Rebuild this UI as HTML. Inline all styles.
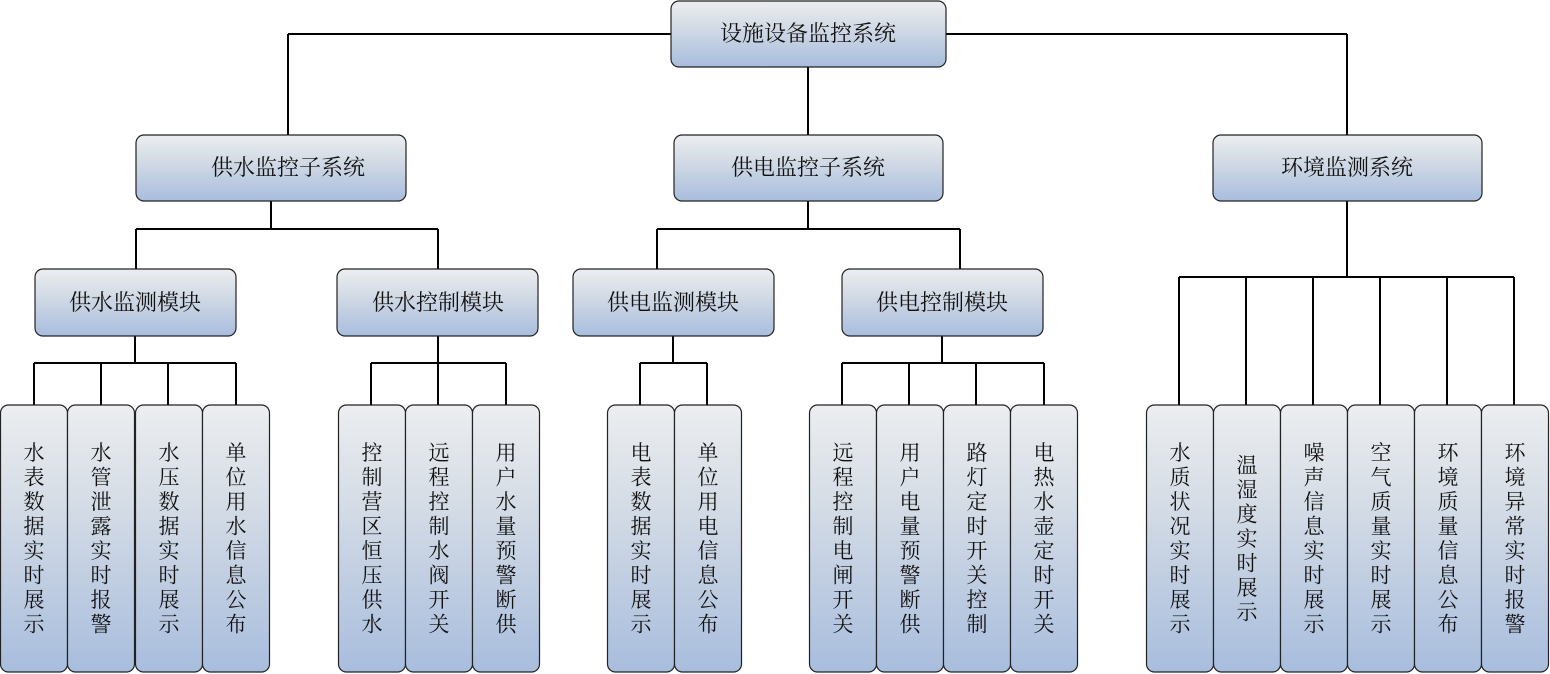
<!DOCTYPE html>
<html><head><meta charset="utf-8"><style>
html,body{margin:0;padding:0;background:#fff;}
svg{display:block;}
text{font-family:"Noto Serif CJK SC","Liberation Serif",serif;font-size:21px;fill:#111;}
.h{font-size:22px;}
</style></head><body>
<svg width="1550" height="674" viewBox="0 0 1550 674" xmlns="http://www.w3.org/2000/svg">
<defs>
<linearGradient id="g" x1="0" y1="0" x2="0" y2="1">
<stop offset="0" stop-color="#eceef0"/><stop offset="0.35" stop-color="#d6dde6"/><stop offset="1" stop-color="#a8bddd"/>
</linearGradient>
</defs>
<g stroke="#000" stroke-width="2" fill="none">
<path d="M288 34H1347M808 34V135M288 34V135M1347 34V135"/>
<path d="M271 201V229M136 229H438M136 229V269M438 229V269"/>
<path d="M808 201V229M657 229H960M657 229V269M960 229V269"/>
<path d="M1347 201V277M1179 277H1514M1179 277V405M1246 277V405M1313 277V405M1380 277V405M1447 277V405M1514 277V405"/>
<path d="M135 336V363M34 363H236M34 363V405M101 363V405M168 363V405M236 363V405"/>
<path d="M438 336V363M371 363H506M371 363V405M438 363V405M506 363V405"/>
<path d="M673 336V363M640 363H707M640 363V405M707 363V405"/>
<path d="M942 336V363M842 363H1044M842 363V405M909 363V405M976 363V405M1044 363V405"/>
</g>
<g stroke="#222" stroke-width="1.2" fill="url(#g)">
<rect x="671" y="1" width="275" height="66" rx="8"/>
<rect x="136" y="135" width="270" height="66" rx="8"/>
<rect x="674" y="135" width="269" height="66" rx="8"/>
<rect x="1213" y="135" width="269" height="66" rx="8"/>
<rect x="35" y="269" width="201" height="67" rx="8"/>
<rect x="337" y="269" width="201" height="67" rx="8"/>
<rect x="573" y="269" width="201" height="67" rx="8"/>
<rect x="842" y="269" width="201" height="67" rx="8"/>
</g>
<g text-anchor="middle" class="h">
<text class="h" x="808" y="41">设施设备监控系统</text>
<text class="h" x="288" y="175">供水监控子系统</text>
<text class="h" x="808" y="175">供电监控子系统</text>
<text class="h" x="1347" y="175">环境监测系统</text>
<text class="h" x="135" y="310">供水监测模块</text>
<text class="h" x="438" y="310">供水控制模块</text>
<text class="h" x="673" y="310">供电监测模块</text>
<text class="h" x="942" y="310">供电控制模块</text>
</g>
<g id="leaves"></g>
</svg>
<script>
var L=[[0,"水表数据实时展示"],[67,"水管泄露实时报警"],[135,"水压数据实时展示"],[202,"单位用水信息公布"],
[338,"控制营区恒压供水"],[405,"远程控制水阀开关"],[472,"用户水量预警断供"],
[607,"电表数据实时展示"],[674,"单位用电信息公布"],
[809,"远程控制电闸开关"],[876,"用户电量预警断供"],[943,"路灯定时开关控制"],[1010,"电热水壶定时开关"],
[1146,"水质状况实时展示"],[1213,"温湿度实时展示"],[1280,"噪声信息实时展示"],[1347,"空气质量实时展示"],[1414,"环境质量信息公布"],[1481,"环境异常实时报警"]];
var g=document.getElementById("leaves"),h="";
L.forEach(function(l){var x=l[0],t=l[1];
h+='<rect x="'+(x+0.5)+'" y="405" width="67" height="267" rx="8" fill="url(#g)" stroke="#222" stroke-width="1.2"/>';
var n=t.length,y0=538-n*24.5/2+20;
for(var i=0;i<n;i++)h+='<text text-anchor="middle" x="'+(x+34)+'" y="'+(y0+i*24.5)+'">'+t[i]+'</text>';});
g.innerHTML=h;
</script>
</body></html>
